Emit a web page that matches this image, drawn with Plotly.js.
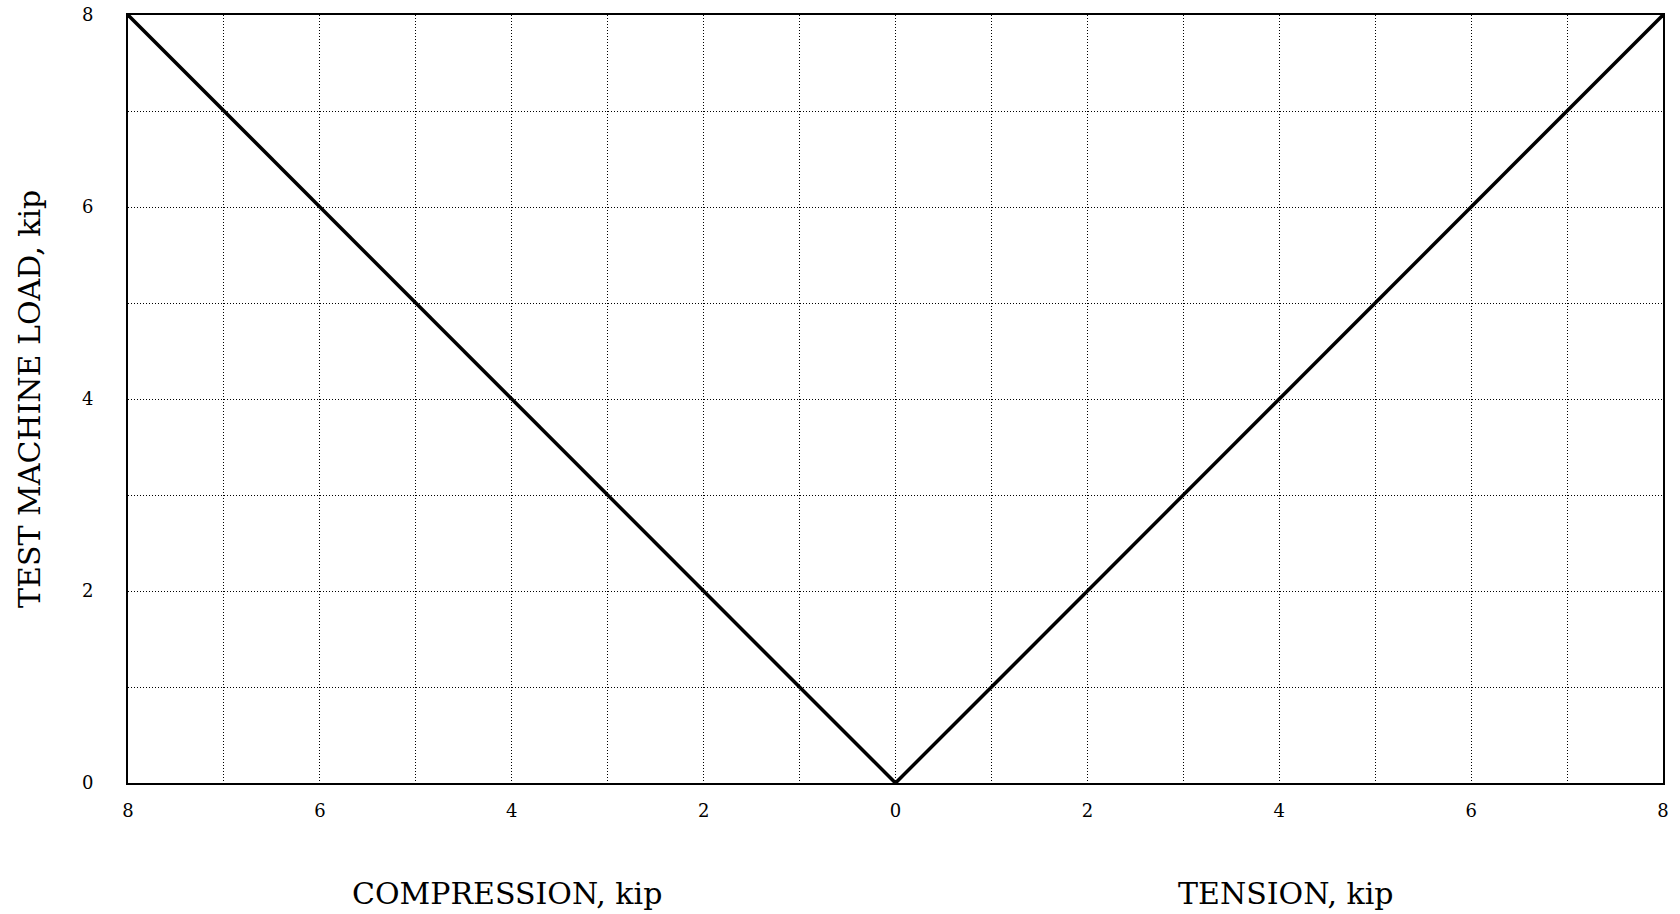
<!DOCTYPE html>
<html>
<head>
<meta charset="utf-8">
<script src="https://cdn.plot.ly/plotly-3.0.1.min.js"></script>
<style>html,body{margin:0;padding:0;background:#fff;}#chart{width:1680px;height:914px;}</style>
</head>
<body>
<div id="chart"></div>
<script>
// Data
const compressionLoad = [8, 0];      // kip (compression side, plotted to the left)
const compressionMachine = [8, 0];   // test machine load, kip
const tensionLoad = [0, 8];          // kip (tension side)
const tensionMachine = [0, 8];
const xTickVals = [-8, -6, -4, -2, 0, 2, 4, 6, 8];
const xTickText = ['8', '6', '4', '2', '0', '2', '4', '6', '8'];
const yTickVals = [0, 2, 4, 6, 8];
const yTickText = ['0', '2', '4', '6', '8'];
const sideLabels = ['COMPRESSION, kip', 'TENSION, kip'];
const sideLabelPos = [-4, 4];
const yTitle = 'TEST MACHINE LOAD, kip';

const font = 'DejaVu Serif, serif';
const dots = '1px,2px';
const traces = [
  {x: compressionLoad.map(v => -v), y: compressionMachine, mode: 'lines', line: {color: '#000', width: 3.5}, hoverinfo: 'skip'},
  {x: tensionLoad, y: tensionMachine, mode: 'lines', line: {color: '#000', width: 3.5}, hoverinfo: 'skip'}
];

const layout = {
  width: 1680, height: 914,
  margin: {l: 128, r: 17, t: 15, b: 131},
  paper_bgcolor: '#fff', plot_bgcolor: '#fff',
  showlegend: false,
  font: {family: font, color: '#000', size: 18},
  xaxis: {
    range: [-8, 8], tickvals: xTickVals, ticktext: xTickText,
    showgrid: true, gridcolor: '#000', griddash: dots, gridwidth: 1,
    minor: {dtick: 1, tick0: 0, showgrid: true, gridcolor: '#000', griddash: dots, gridwidth: 1},
    showline: true, linecolor: '#000', linewidth: 2, mirror: true,
    zeroline: false, ticks: '', ticklabelstandoff: 10,
    tickfont: {family: font, size: 18, color: '#000'}, fixedrange: true
  },
  yaxis: {
    range: [0, 8], tickvals: yTickVals, ticktext: yTickText,
    showgrid: true, gridcolor: '#000', griddash: dots, gridwidth: 1,
    minor: {dtick: 1, tick0: 0, showgrid: true, gridcolor: '#000', griddash: dots, gridwidth: 1},
    showline: true, linecolor: '#000', linewidth: 2, mirror: true,
    zeroline: false, ticks: '', ticklabelstandoff: 29,
    tickfont: {family: font, size: 18, color: '#000'},
    fixedrange: true
  },
  annotations: sideLabels.map((t, i) => ({
    text: t, x: sideLabelPos[i], xref: 'x', y: 0, yref: 'paper',
    xshift: i === 0 ? -5 : 7,
    yshift: -110, showarrow: false, xanchor: 'center', yanchor: 'middle',
    font: {family: font, size: 30, color: '#000'}
  })).concat([{
    text: yTitle, x: 0, xref: 'paper', y: 0.5, yref: 'paper',
    xshift: -99, textangle: -90, showarrow: false, xanchor: 'center', yanchor: 'middle',
    font: {family: font, size: 30, color: '#000'}
  }])
};

Plotly.newPlot('chart', traces, layout, {displayModeBar: false, staticPlot: true});
</script>
</body>
</html>
